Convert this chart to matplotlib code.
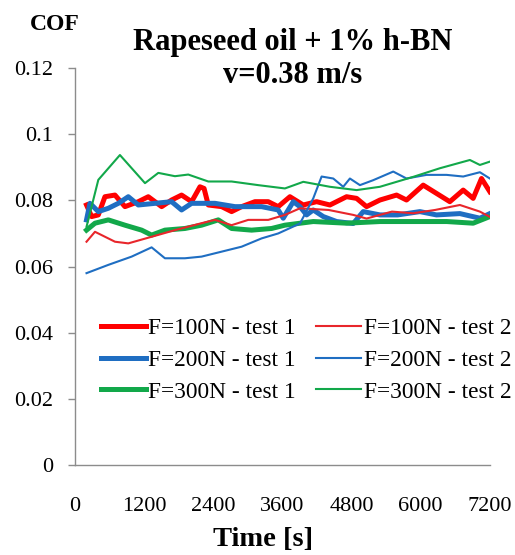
import matplotlib
matplotlib.use("Agg")
import matplotlib.pyplot as plt

plt.rcParams['font.family'] = ['Liberation Serif', 'DejaVu Serif']

# friction traces, time in seconds
t_100_1 = [200, 289, 405, 520, 694, 867, 1099, 1272, 1504, 1677, 1850, 2024, 2169, 2240,
           2313, 2545, 2718, 2892, 3123, 3354, 3527, 3730, 3962, 4193, 4424, 4713, 4887,
           5060, 5292, 5581, 5754, 6043, 6274, 6505, 6737, 6910, 7055, 7200]
cof_100_1 = [0.0786, 0.0751, 0.0756, 0.0811, 0.0816, 0.0781, 0.0796, 0.0811, 0.0781, 0.0801,
             0.0816, 0.0796, 0.0841, 0.0836, 0.0786, 0.0781, 0.0766, 0.0781, 0.0796, 0.0796,
             0.0781, 0.0811, 0.0786, 0.0796, 0.0786, 0.0811, 0.0806, 0.0781, 0.0801, 0.0816,
             0.0801, 0.0846, 0.0821, 0.0796, 0.0831, 0.0806, 0.0866, 0.0826]

t_100_2 = [200, 347, 694, 925, 1330, 1735, 2197, 2429, 2718, 3007, 3354, 3643, 3904, 4400,
           4830, 5060, 5500, 5870, 6250, 6680, 7027, 7200]
cof_100_2 = [0.0675, 0.0705, 0.0675, 0.067, 0.069, 0.071, 0.0731, 0.0741, 0.0725, 0.0741,
             0.0741, 0.0756, 0.0776, 0.0771, 0.0756, 0.0745, 0.0766, 0.0761, 0.0771, 0.0786,
             0.0766, 0.075]

t_200_1 = [200, 260, 405, 578, 752, 925, 1099, 1388, 1677, 1850, 2024, 2429, 2776, 3238,
           3527, 3614, 3788, 3904, 4020, 4135, 4309, 4540, 4829, 5002, 5292, 5600, 5986,
           6274, 6680, 7027, 7200]
cof_200_1 = [0.0741, 0.0791, 0.0766, 0.0776, 0.0791, 0.0811, 0.0786, 0.0791, 0.0796, 0.0771,
             0.0791, 0.0791, 0.0781, 0.0781, 0.0771, 0.0746, 0.0796, 0.0781, 0.0756, 0.0771,
             0.0751, 0.0736, 0.073, 0.0766, 0.0756, 0.0756, 0.0766, 0.0756, 0.076, 0.0746,
             0.076]

t_200_2 = [200, 578, 983, 1330, 1561, 1908, 2197, 2545, 2892, 3238, 3527, 3904, 4135, 4280,
           4482, 4655, 4771, 4945, 5176, 5523, 5754, 6101, 6448, 6737, 7027, 7200]
cof_200_2 = [0.058, 0.0605, 0.063, 0.0658, 0.0625, 0.0625, 0.063, 0.0645, 0.066, 0.0685,
             0.070, 0.073, 0.0806, 0.0872, 0.0866, 0.0841, 0.0866, 0.0846, 0.0861, 0.0887,
             0.0866, 0.0877, 0.0877, 0.0872, 0.0885, 0.0866]

t_300_1 = [200, 347, 578, 867, 1157, 1330, 1561, 1908, 2197, 2487, 2718, 3065, 3412, 3643,
           4135, 4713, 5292, 5870, 6450, 6910, 7200]
cof_300_1 = [0.071, 0.0731, 0.0741, 0.0725, 0.071, 0.0695, 0.071, 0.0715, 0.0725, 0.0741,
             0.0715, 0.071, 0.0715, 0.0725, 0.0736, 0.0731, 0.0736, 0.0736, 0.0736, 0.0731,
             0.0751]

t_300_2 = [200, 405, 780, 1215, 1446, 1735, 1966, 2313, 2718, 3180, 3643, 3962, 4424, 4887,
           5292, 5870, 6332, 6853, 7027, 7200]
cof_300_2 = [0.072, 0.0862, 0.0937, 0.0852, 0.0883, 0.0873, 0.0878, 0.0857, 0.0857, 0.0846,
             0.0836, 0.0856, 0.0841, 0.0831, 0.0841, 0.0871, 0.0897, 0.0922, 0.0907, 0.0917]

x_ticks = [0, 1200, 2400, 3600, 4800, 6000, 7200]
y_ticks = [0, 0.02, 0.04, 0.06, 0.08, 0.1, 0.12]
y_labels = ['0', '0.02', '0.04', '0.06', '0.08', '0.1', '0.12']

red = '#FF0000'
red_thin = '#E8262B'
blue = '#1F6EC2'
green = '#12A84A'

fig = plt.figure(figsize=(5.15, 5.55), dpi=100)
ax = fig.add_axes([0.1456, 0.162, 0.8056, 0.7155])

ax.plot(t_100_1, cof_100_1, color=red, lw=3.6, label='F=100N - test 1')
ax.plot(t_200_1, cof_200_1, color=blue, lw=3.6, label='F=200N - test 1')
ax.plot(t_300_1, cof_300_1, color=green, lw=3.6, label='F=300N - test 1')
ax.plot(t_100_2, cof_100_2, color=red_thin, lw=1.5, label='F=100N - test 2')
ax.plot(t_200_2, cof_200_2, color=blue, lw=1.5, label='F=200N - test 2')
ax.plot(t_300_2, cof_300_2, color=green, lw=1.5, label='F=300N - test 2')

ax.set_xlim(0, 7200)
ax.set_ylim(0, 0.12)
ax.set_xticks(x_ticks)
ax.set_xticklabels([str(v) for v in x_ticks])
ax.set_yticks(y_ticks)
ax.set_yticklabels(y_labels)

for side in ['top', 'right']:
    ax.spines[side].set_visible(False)
for side in ['left', 'bottom']:
    ax.spines[side].set_color('#8C8C8C')
    ax.spines[side].set_linewidth(1.0)
ax.tick_params(axis='y', length=5, width=1, color='#8C8C8C', labelsize=16, pad=11)
ax.tick_params(axis='x', length=0, labelsize=16, pad=23)

leg = ax.legend(loc='center', bbox_to_anchor=(306 / 515, 1 - 360 / 555),
                bbox_transform=fig.transFigure, ncol=2, frameon=False, fontsize=16.8,
                handlelength=1.95, handletextpad=0.1, columnspacing=0.85,
                labelspacing=0.45, borderpad=0)

fig.text(55 / 515, 1 - 25 / 555, 'COF', ha='center', va='center',
         fontsize=17, fontweight='bold')
fig.text(293 / 515, 1 - 59 / 555, 'Rapeseed oil + 1% h-BN\nv=0.38 m/s', ha='center',
         va='center', fontsize=22, fontweight='bold', linespacing=1.15)
fig.text(263 / 515, 1 - 540 / 555, 'Time [s]', ha='center', va='center',
         fontsize=20.5, fontweight='bold')

fig.savefig('out.png', dpi=100)
